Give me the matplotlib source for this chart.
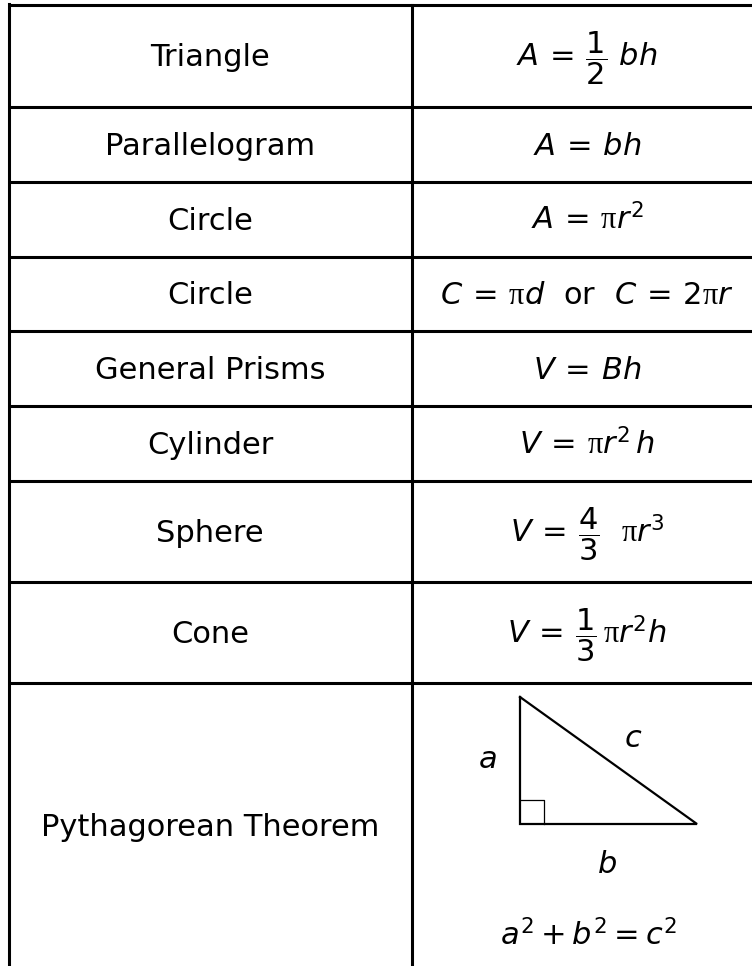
import matplotlib
matplotlib.use("Agg")
import matplotlib.pyplot as plt

plt.rcParams["font.family"] = "DejaVu Sans"
plt.rcParams["mathtext.fontset"] = "custom"
plt.rcParams["mathtext.rm"] = "DejaVu Sans"
plt.rcParams["mathtext.it"] = "DejaVu Sans:italic"
plt.rcParams["mathtext.sf"] = "Liberation Serif"

# table content
shapes = ["Triangle", "Parallelogram", "Circle", "Circle", "General Prisms",
          "Cylinder", "Sphere", "Cone", "Pythagorean Theorem"]
formulas = [
    r"$A\,=\,\dfrac{1}{2}\ bh$",
    r"$A\,=\,bh$",
    r"$A\,=\,\mathsf{\pi}r^2$",
    r"$C\,=\,\mathsf{\pi}d\ \ \mathrm{or}\ \ C\,=\,2\mathsf{\pi}r$",
    r"$V\,=\,Bh$",
    r"$V\,=\,\mathsf{\pi}r^2\,h$",
    r"$V\,=\,\dfrac{4}{3}\ \ \mathsf{\pi}r^3$",
    r"$V\,=\,\dfrac{1}{3}\,\mathsf{\pi}r^2h$",
]
side_labels = ["a", "b", "c"]
pyth_eq = r"$a^2 + b^2 = c^2$"

# layout in pixels
W, H = 752, 966
row_edges = [5, 107, 182, 256.7, 331.3, 406, 481, 582, 683, 966]
x_left, x_mid, x_right = 8.5, 412, 764
fs = 22

fig = plt.figure(figsize=(W / 100, H / 100), dpi=100)
ax = fig.add_axes([0, 0, 1, 1])
ax.set_xlim(0, W)
ax.set_ylim(H, 0)
ax.axis("off")

lw = 2.2
for y in row_edges[:-1]:
    ax.plot([x_left - 1, W + 5], [y, y], color="black", lw=lw, solid_capstyle="butt")
ax.plot([x_left, x_left], [row_edges[0] - 1, H + 5], color="black", lw=lw)
ax.plot([x_mid, x_mid], [row_edges[0], H + 5], color="black", lw=lw)

cx_left = (x_left + x_mid) / 2
cx_right = (x_mid + x_right) / 2 - 1
for i, name in enumerate(shapes):
    yc = (row_edges[i] + row_edges[i + 1]) / 2
    if i == len(shapes) - 1:
        yc = 826
    ax.text(cx_left, yc + 10.5, name, fontsize=fs, ha="center", va="baseline")
    if i < len(formulas):
        ax.text(cx_right, yc + 10.5, formulas[i], fontsize=fs, ha="center", va="baseline")

# right triangle diagram
x0, y0 = 520, 824
leg_a, leg_b, sq = 127, 177, 24
ax.plot([x0, x0, x0 + leg_b, x0], [y0 - leg_a, y0, y0, y0 - leg_a],
        color="black", lw=1.6, solid_joinstyle="miter")
ax.plot([x0, x0 + sq, x0 + sq], [y0 - sq, y0 - sq, y0], color="black", lw=0.9)
ax.text(487, 768, "$" + side_labels[0] + "$", fontsize=fs, ha="center", va="baseline")
ax.text(607, 873, "$" + side_labels[1] + "$", fontsize=fs, ha="center", va="baseline")
ax.text(633, 747, "$" + side_labels[2] + "$", fontsize=fs, ha="center", va="baseline")
ax.text(589, 945, pyth_eq, fontsize=fs, ha="center", va="baseline")

fig.savefig("out.png", dpi=100, facecolor="white")
